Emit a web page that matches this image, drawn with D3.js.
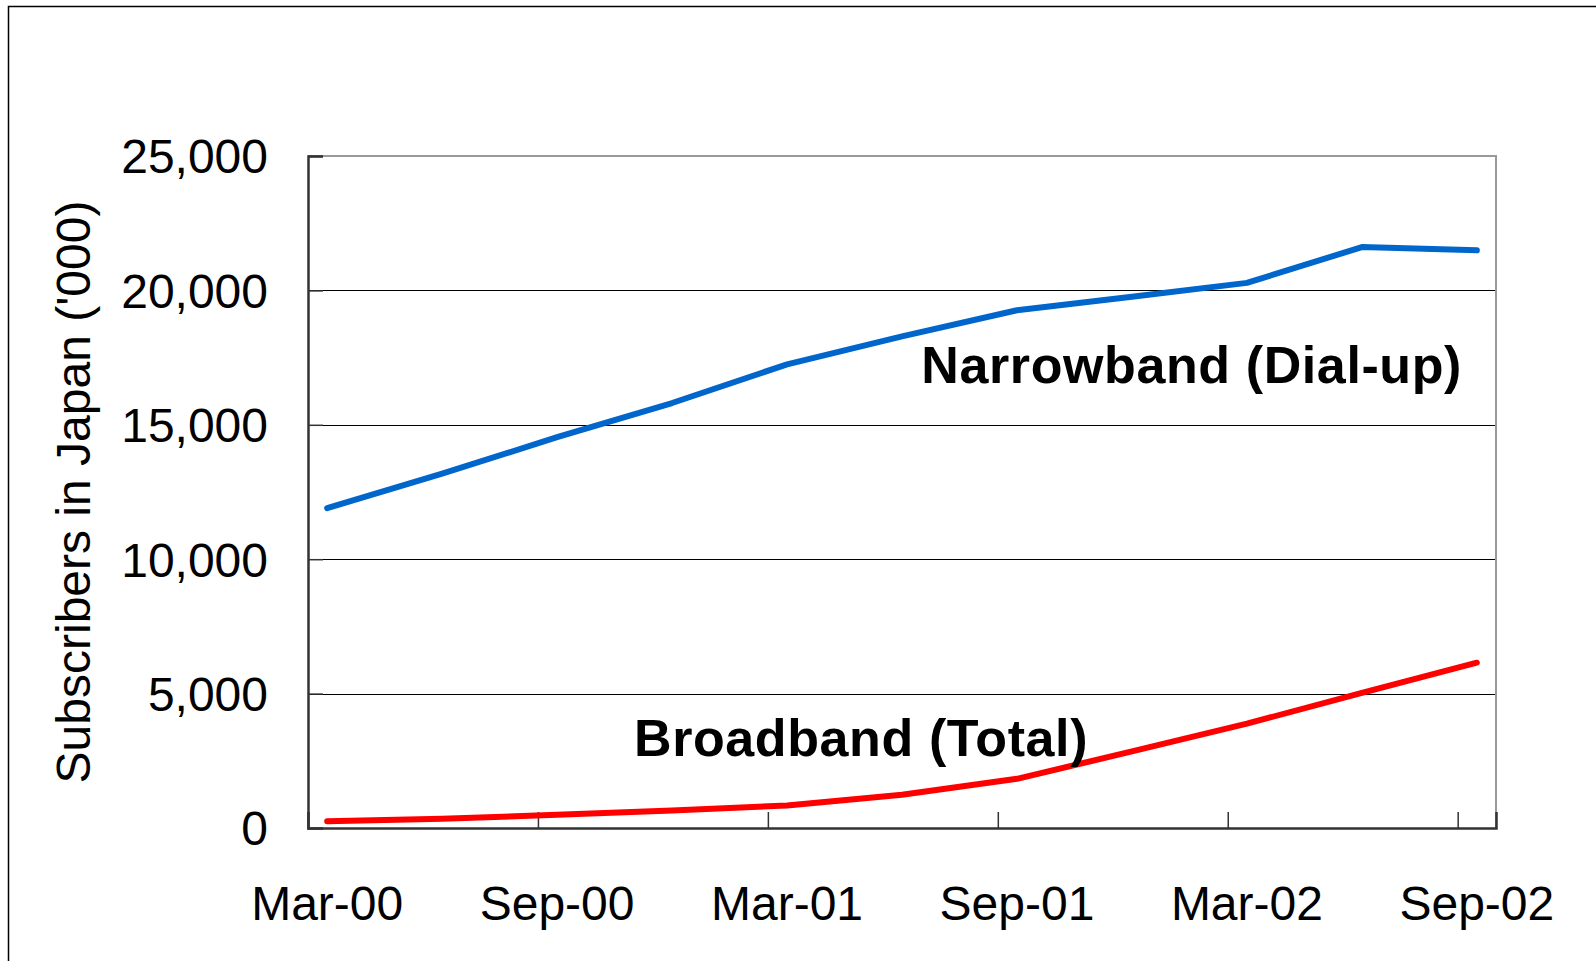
<!DOCTYPE html>
<html>
<head>
<meta charset="utf-8">
<script src="https://cdn.jsdelivr.net/npm/d3@7"></script>
<style>
  body { margin: 0; background: #fff; }
  text { font-family: "Liberation Sans", Arial, sans-serif; fill: #000; }
</style>
</head>
<body>
<div id="chart"></div>
<script>
// quarterly points, Mar-00 .. Sep-02 (month index from Mar-00)
var months = [0, 3, 6, 9, 12, 15, 18, 21, 24, 27, 30];
var narrowband = [11900, 13180, 14540, 15810, 17250, 18290, 19260, 19760, 20280, 21610, 21490];
var broadband = [250, 340, 490, 650, 840, 1240, 1830, 2850, 3880, 5030, 6150];

var xTickMonths = [0, 6, 12, 18, 24, 30];
var xTickLabels = ["Mar-00", "Sep-00", "Mar-01", "Sep-01", "Mar-02", "Sep-02"];
var yTicks = [0, 5000, 10000, 15000, 20000, 25000];

var W = 1596, H = 961;
var m = [156, 100, 133, 308]; // top right bottom left
var w = 1496 - m[3],
    h = 828 - m[0];

var svg = d3.select("#chart").append("svg")
  .attr("width", W)
  .attr("height", H);

// outer frame
svg.append("rect")
  .attr("x", 8.5).attr("y", 6.5)
  .attr("width", W).attr("height", H)
  .attr("fill", "none")
  .attr("stroke", "#000")
  .attr("stroke-width", 1.5);

// 31 monthly slots, points sit in the middle of their slot
var x = d3.scaleLinear().domain([0, 31]).range([0, w]);
var y = d3.scaleLinear().domain([0, 25000]).range([h, 0]);

var g = svg.append("g")
  .attr("transform", "translate(" + m[3] + "," + m[0] + ")");

//////////////////////////////////////////////////////
// GRID + FRAME
//////////////////////////////////////////////////////
g.append("g")
  .selectAll("line")
  .data(yTicks.filter(function(d) { return d > 0 && d < 25000; }))
  .enter().append("line")
  .attr("x1", 0).attr("x2", w)
  .attr("y1", function(d) { return Math.round(y(d)) + 0.5; })
  .attr("y2", function(d) { return Math.round(y(d)) + 0.5; })
  .attr("stroke", "#000")
  .attr("stroke-width", 1);

g.append("path")
  .attr("d", "M0," + y(25000) + "H" + w + "V" + h)
  .attr("fill", "none")
  .attr("stroke", "#999")
  .attr("stroke-width", 2);

//////////////////////////////////////////////////////
// AXES
//////////////////////////////////////////////////////
var yAxis = d3.axisLeft(y)
  .tickValues(yTicks)
  .tickSize(-15)
  .tickPadding(40)
  .tickFormat(d3.format(","));

var gY = g.append("g").call(yAxis);
gY.select(".domain").attr("stroke", "#333").attr("stroke-width", 2.5);
gY.selectAll(".tick line").attr("stroke", "#333").attr("stroke-width", 1.5);
gY.selectAll(".tick text")
  .attr("font-size", 48)
  .attr("font-family", "Liberation Sans, Arial, sans-serif")
  .attr("dy", "0.35em");

var xAxis = d3.axisBottom(x)
  .tickValues(xTickMonths)
  .tickSize(-16)
  .tickFormat("");

var gX = g.append("g")
  .attr("transform", "translate(0," + h + ")")
  .call(xAxis);
gX.select(".domain").attr("stroke", "#333").attr("stroke-width", 2.5);
gX.selectAll(".tick line").attr("stroke", "#333").attr("stroke-width", 1.5);

// labels centred on the data month, ticks on slot boundaries
g.append("g")
  .selectAll("text")
  .data(xTickMonths)
  .enter().append("text")
  .attr("x", function(d) { return x(d + 0.5); })
  .attr("y", h + 92)
  .attr("text-anchor", "middle")
  .attr("font-size", 48)
  .text(function(d, i) { return xTickLabels[i]; });

svg.append("text")
  .attr("transform", "translate(90," + (m[0] + h / 2) + ") rotate(-90)")
  .attr("text-anchor", "middle")
  .attr("font-size", 48)
  .text("Subscribers in Japan ('000)");

//////////////////////////////////////////////////////
// LINES
//////////////////////////////////////////////////////
var line = d3.line()
  .x(function(d, i) { return x(months[i] + 0.5); })
  .y(function(d) { return y(d); });

g.append("path")
  .datum(narrowband)
  .attr("d", line)
  .attr("fill", "none")
  .attr("stroke", "#0066CC")
  .attr("stroke-width", 6)
  .attr("stroke-linecap", "round")
  .attr("stroke-linejoin", "round");

g.append("path")
  .datum(broadband)
  .attr("d", line)
  .attr("fill", "none")
  .attr("stroke", "#FF0000")
  .attr("stroke-width", 6)
  .attr("stroke-linecap", "round")
  .attr("stroke-linejoin", "round");

// series labels
g.append("text")
  .attr("x", 1462 - m[3])
  .attr("y", 383 - m[0])
  .attr("text-anchor", "end")
  .attr("font-size", 52)
  .attr("letter-spacing", 0.6)
  .attr("font-weight", "bold")
  .text("Narrowband (Dial-up)");

g.append("text")
  .attr("x", 634 - m[3])
  .attr("y", 756 - m[0])
  .attr("font-size", 52)
  .attr("letter-spacing", 0.6)
  .attr("font-weight", "bold")
  .text("Broadband (Total)");
</script>
</body>
</html>
